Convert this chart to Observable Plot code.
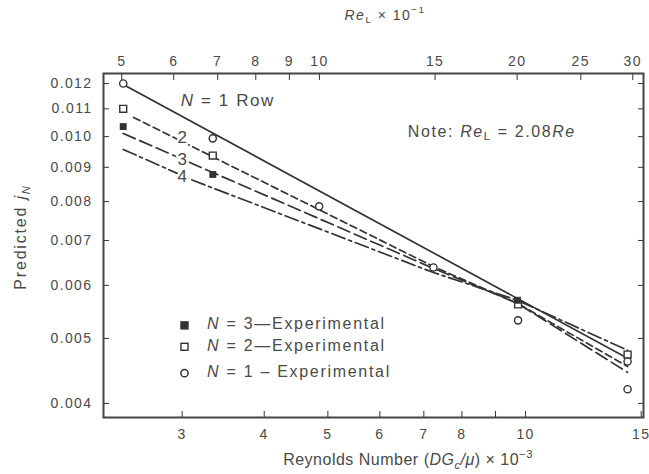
<!DOCTYPE html>
<html><head><meta charset="utf-8">
<script src="https://cdn.jsdelivr.net/npm/d3@7"></script>
<script src="https://cdn.jsdelivr.net/npm/@observablehq/plot@0.6"></script>
<style>
body{margin:0;background:#fff;}
#chart svg{display:block;}
#chart g[aria-label$="tick label"] text{letter-spacing:1.4px;}
</style></head><body><div id="chart"></div>
<script>
// ---------------- data ----------------
const bottomTicks = [3, 4, 5, 6, 7, 8, 9, 10, 15];
const topTicks = [5, 6, 7, 8, 9, 10, 15, 20, 25, 30];
const yTicks = [0.004, 0.005, 0.006, 0.007, 0.008, 0.009, 0.010, 0.011, 0.012];
const topPerBottom = 2.06; // Re_L x10^-1 per Re x10^-3 as laid out on the figure

// predicted curves (Re x 10^-3 , j_N)
const n1Re = [2.44, 14.3];
const n1J  = [0.01196, 0.00467];
const n2Re = [2.53, 7.24, 9.72, 14.3];
const n2J  = [0.01068, 0.0064, 0.00564, 0.00454];
const n3Re = [2.44, 3.34, 7.24, 9.72, 14.3];
const n3J  = [0.01011, 0.00884, 0.00636, 0.00564, 0.00445];
const n4Re = [2.44, 3.12, 7.24, 9.72, 14.3];
const n4J  = [0.00957, 0.0086, 0.00627, 0.0057, 0.0048];

// experimental points
const e1Re = [2.44, 3.34, 4.85, 7.24, 9.74, 14.3, 14.3];
const e1J  = [0.0120, 0.00994, 0.00787, 0.00638, 0.00532, 0.00462, 0.0042];
const e2Re = [2.44, 3.34, 9.74, 14.3];
const e2J  = [0.0110, 0.00937, 0.00562, 0.00473];
const e3Re = [2.44, 3.34, 9.72];
const e3J  = [0.01035, 0.00878, 0.0057];

// annotation anchors (data units)
const curveLabels = ["2", "3", "4"];
const curveLabelRe = [3.0, 3.0, 3.0];
const curveLabelJ = [0.00997, 0.00925, 0.00872];
const rowLabelAt = [2.99, 0.01125];
const noteAt = [6.63, 0.01012];
const legendSymRe = 3.03, legendTextRe = 3.28;
const legendJ = [0.00522, 0.00485, 0.00443];
const legendN = ["3", "2", "1"];
const legendSep = ["\u2014", "\u2014", " \u2013 "];

// ---------------- build ----------------
const zip = (xs, ys) => xs.map((x, i) => ({re: x, j: ys[i]}));
const ink = "#333";
const txt = "#4a4a4a";

const plot = Plot.plot({
  width: 649, height: 474,
  marginLeft: 103, marginRight: 6, marginTop: 73, marginBottom: 57,
  style: {fontFamily: "'Liberation Sans', Arial, sans-serif", fontSize: "14px", color: txt, background: "#fff"},
  x: {type: "log", domain: [2.277, 15.12]},
  y: {type: "log", domain: [0.003811, 0.01242]},
  marks: [
    Plot.axisY(yTicks, {anchor: "left", tickSize: -6, tickPadding: 17, fontSize: 14, tickFormat: d => d.toFixed(3), label: null, stroke: ink}),
    Plot.axisY(yTicks, {anchor: "right", tickSize: -6, tickFormat: () => "", label: null, stroke: ink}),
    Plot.axisX(bottomTicks, {anchor: "bottom", tickSize: -6, tickPadding: 18, fontSize: 14, tickFormat: d => String(d), label: null, stroke: ink}),
    Plot.axisX(topTicks.map(t => t / topPerBottom), {anchor: "top", tickSize: -6, tickPadding: 14, fontSize: 14, tickFormat: d => String(Math.round(d * topPerBottom)), label: null, stroke: ink}),
    Plot.line(zip(n1Re, n1J), {x: "re", y: "j", stroke: ink, strokeWidth: 1.7}),
    Plot.line(zip(n2Re, n2J), {x: "re", y: "j", stroke: ink, strokeWidth: 1.7, strokeDasharray: "7,4"}),
    Plot.line(zip(n3Re, n3J), {x: "re", y: "j", stroke: ink, strokeWidth: 1.7, strokeDasharray: "13,5"}),
    Plot.line(zip(n4Re, n4J), {x: "re", y: "j", stroke: ink, strokeWidth: 1.7, strokeDasharray: "14,4,3,4"}),
    Plot.dot(zip(e1Re, e1J), {x: "re", y: "j", symbol: "circle", r: 3.6, stroke: ink, fill: "white", strokeWidth: 1.4}),
    Plot.dot(zip(e2Re, e2J), {x: "re", y: "j", symbol: "square", r: 3.9, stroke: ink, fill: "white", strokeWidth: 1.4}),
    Plot.dot(zip(e3Re, e3J), {x: "re", y: "j", symbol: "square", r: 3.9, fill: ink}),
    Plot.text(curveLabels, {x: (d, i) => curveLabelRe[i], y: (d, i) => curveLabelJ[i], text: d => d, fill: txt, stroke: "white", strokeWidth: 5, fontSize: 17}),
    Plot.frame({stroke: "#444", strokeWidth: 2})
  ]
});
document.getElementById("chart").appendChild(plot);

// rich text (italics / sub- and superscripts)
const sx = plot.scale("x"), sy = plot.scale("y");
const svg = d3.select(plot);
const font = "'Liberation Sans', Arial, sans-serif";
function rich(x, y, parts, {size = 14, anchor = "start", rotate = 0, spacing = 1} = {}) {
  const t = svg.append("text")
    .attr("font-family", font).attr("font-size", size).attr("fill", txt)
    .attr("letter-spacing", spacing)
    .attr("text-anchor", anchor).attr("dominant-baseline", "middle")
    .attr("transform", `translate(${x},${y}) rotate(${rotate})`);
  for (const p of parts) {
    const s = t.append("tspan").text(p.t);
    if (p.i) s.attr("font-style", "italic");
    if (p.sub) s.attr("font-size", size * 0.7).attr("dy", size * 0.3);
    if (p.sup) s.attr("font-size", size * 0.7).attr("dy", -size * 0.4);
    if (p.back) s.attr("dy", p.back);
  }
  return t;
}
// axis titles
rich(385, 16, [{t: "Re", i: true}, {t: "L", sub: true}, {t: " \u00d7 10", back: -4.2}, {t: "\u22121", sup: true}], {anchor: "middle", size: 14, spacing: 1.5});
rich(408, 461, [{t: "Reynolds Number ("}, {t: "DG", i: true}, {t: "c", sub: true, i: true}, {t: "/\u03bc", i: true, back: -4.8}, {t: ") \u00d7 10"}, {t: "\u22123", sup: true}], {anchor: "middle", size: 16, spacing: 0.5});
rich(22, 237, [{t: "Predicted "}, {t: "j", i: true}, {t: "N", sub: true, i: true}], {anchor: "middle", size: 16, rotate: -90, spacing: 1.8});
// in-plot annotations
rich(sx.apply(rowLabelAt[0]), sy.apply(rowLabelAt[1]), [{t: "N", i: true}, {t: " = 1 Row"}], {size: 17, spacing: 1.6});
rich(sx.apply(noteAt[0]), sy.apply(noteAt[1]), [{t: "Note: "}, {t: "Re", i: true}, {t: "L", sub: true}, {t: " = 2.08", back: -4.9}, {t: "Re", i: true}], {size: 16, spacing: 1.6});
// legend
legendN.forEach((n, i) => {
  const lx = sx.apply(legendSymRe), ly = sy.apply(legendJ[i]);
  if (i === 2) svg.append("circle").attr("cx", lx).attr("cy", ly).attr("r", 3.6).attr("fill", "white").attr("stroke", ink).attr("stroke-width", 1.5);
  else svg.append("rect").attr("x", lx - 3.5).attr("y", ly - 3.5).attr("width", 7).attr("height", 7)
      .attr("fill", i === 0 ? ink : "white").attr("stroke", ink).attr("stroke-width", 1.4);
  rich(sx.apply(legendTextRe), ly, [{t: "N", i: true}, {t: " = " + n + legendSep[i] + "Experimental"}], {size: 16, spacing: 1.7});
});
</script></body></html>
